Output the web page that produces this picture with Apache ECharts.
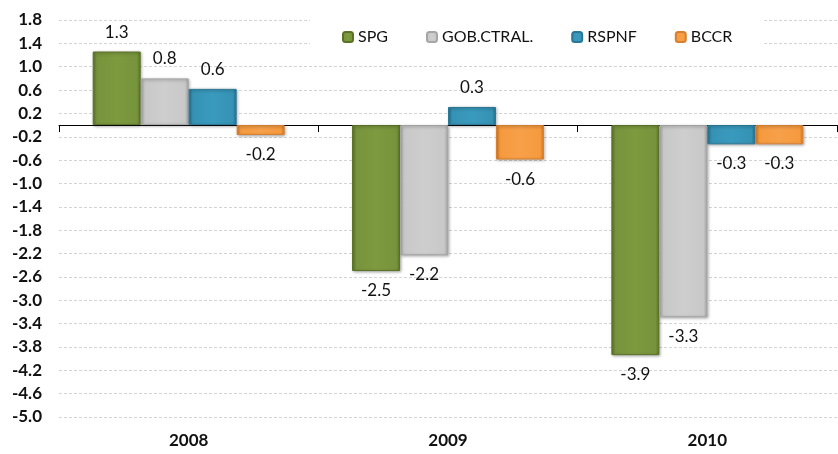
<!DOCTYPE html>
<html>
<head>
<meta charset="utf-8">
<script src="https://cdn.jsdelivr.net/npm/echarts@6/dist/echarts.min.js"></script>
<style>
  html, body { margin: 0; padding: 0; background: #fff; }
  #container { width: 838px; height: 454px; }
</style>
</head>
<body>
<div id="container"></div>
<script>
var years = ['2008', '2009', '2010'];
var spg = [1.26, -2.50, -3.94];
var gobCtral = [0.80, -2.23, -3.29];
var rspnf = [0.62, 0.31, -0.33];
var bccr = [-0.17, -0.59, -0.33];
var seriesNames = ['SPG', 'GOB.CTRAL.', 'RSPNF', 'BCCR'];

// colores: borde oscuro, centro, brillo
function barColor(dark, mid, light) {
	return new echarts.graphic.LinearGradient(0, 0, 1, 0, [
		{offset: 0, color: dark},
		{offset: 0.08, color: mid},
		{offset: 0.5, color: light},
		{offset: 0.92, color: mid},
		{offset: 1, color: dark}
	]);
}

var styles = [
	{color: barColor('#5f7a2a', '#77933c', '#7d9a3f'), border: '#5a7226'},
	{color: barColor('#aaaaaa', '#c8c8c8', '#cecece'), border: '#a6a6a6'},
	{color: barColor('#25728f', '#3592b5', '#3a9abd'), border: '#2a7895'},
	{color: barColor('#d97a22', '#f59a3e', '#f7a04a'), border: '#d8802f'}
];

function makeSeries(name, data, idx) {
	return {
		name: name,
		type: 'bar',
		xAxisIndex: 0,
		data: data,
		barGap: '0%',
		barCategoryGap: '26%',
		itemStyle: {
			color: styles[idx].color,
			borderColor: styles[idx].border,
			borderWidth: 1,
			shadowColor: 'rgba(0,0,0,0.35)',
			shadowBlur: 3,
			shadowOffsetX: 1,
			shadowOffsetY: 1
		},
		label: {
			show: true,
			position: 'outside',
			distance: 11,
			fontFamily: 'Lato',
			fontSize: 17,
			color: '#111',
			formatter: function (p) { return p.value.toFixed(1); }
		}
	};
}

var myChart = echarts.init(document.getElementById('container'));
myChart.setOption({
	backgroundColor: '#FFFFFF',
	animation: false,
	legend: {
		data: seriesNames,
		left: 310,
		top: 17,
		padding: [12, 32, 8, 32],
		backgroundColor: '#FFFFFF',
		itemWidth: 10,
		itemHeight: 10,
		itemGap: 38,
		textStyle: {fontFamily: 'Lato', fontSize: 16, color: '#111'}
	},
	grid: {left: 59, right: 1, top: 20, bottom: 37},
	xAxis: [
		{
			type: 'category',
			data: years,
			position: 'bottom',
			axisLine: {show: false, onZero: false},
			axisTick: {show: false},
			axisLabel: {margin: 15, fontFamily: 'Lato', fontWeight: 'bold', fontSize: 17, color: '#111'}
		},
		{
			type: 'category',
			data: years,
			position: 'top',
			axisLine: {show: true, onZero: true, lineStyle: {color: '#000', width: 1}},
			axisTick: {show: true, inside: true, length: 7, lineStyle: {color: '#000'}},
			axisLabel: {show: false}
		}
	],
	yAxis: {
		type: 'value',
		min: -5.0,
		max: 1.8,
		interval: 0.4,
		axisLine: {show: false},
		axisTick: {show: false},
		splitLine: {lineStyle: {color: '#d4d4d4', type: [3, 2]}},
		axisLabel: {
			margin: 17,
			fontFamily: 'Lato',
			fontWeight: 'bold',
			fontSize: 17,
			color: '#111',
			formatter: function (v) { return v.toFixed(1); }
		}
	},
	series: [
		makeSeries(seriesNames[0], spg, 0),
		makeSeries(seriesNames[1], gobCtral, 1),
		makeSeries(seriesNames[2], rspnf, 2),
		makeSeries(seriesNames[3], bccr, 3)
	]
});
</script>
</body>
</html>
